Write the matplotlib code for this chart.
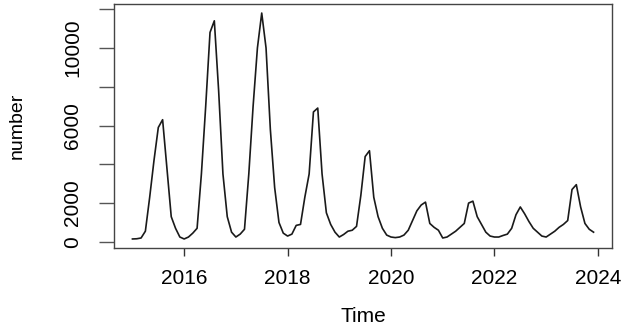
import numpy as np
import pandas as pd
import matplotlib
matplotlib.use("Agg")
import matplotlib.pyplot as plt

# monthly counts, Jan 2015 - Dec 2023
y2015 = [150, 160, 200, 550, 2300, 4200, 5900, 6300, 3800, 1300, 700, 250]
y2016 = [150, 250, 450, 700, 3500, 7000, 10800, 11400, 7800, 3500, 1300, 500]
y2017 = [250, 400, 650, 3500, 7000, 10000, 11800, 10000, 5800, 2800, 1000, 450]
y2018 = [300, 400, 850, 900, 2300, 3500, 6700, 6900, 3500, 1500, 900, 500]
y2019 = [250, 380, 550, 600, 800, 2400, 4400, 4700, 2300, 1300, 700, 350]
y2020 = [250, 220, 250, 350, 600, 1100, 1600, 1900, 2050, 950, 750, 600]
y2021 = [200, 250, 400, 550, 750, 950, 2000, 2100, 1300, 900, 500, 300]
y2022 = [250, 250, 330, 400, 700, 1400, 1800, 1450, 1050, 700, 500, 300]
y2023 = [250, 400, 550, 750, 900, 1100, 2700, 2950, 1800, 950, 650, 500]

yticks = [0, 2000, 4000, 6000, 8000, 10000, 12000]
ytick_labels = ["0", "2000", "", "6000", "", "10000", ""]
xticks = [2016, 2018, 2020, 2022, 2024]

counts = y2015 + y2016 + y2017 + y2018 + y2019 + y2020 + y2021 + y2022 + y2023
time = 2015 + np.arange(len(counts)) / 12
series = pd.Series(counts, index=time)

plt.rcParams["font.family"] = ["Liberation Sans", "DejaVu Sans"]

fig = plt.figure(figsize=(6.3, 3.25), dpi=100)
ax = fig.add_axes([114 / 630, 77 / 325, 498 / 630, 244 / 325])

ax.plot(series.index, series.values, color="#1a1a1a", lw=1.2)

# R style 4% padding around the data range
x0, x1 = series.index.min(), series.index.max()
ax.set_xlim(x0 - 0.04 * (x1 - x0), x1 + 0.04 * (x1 - x0))
lo, hi = series.min(), series.max()
ax.set_ylim(lo - 0.04 * (hi - lo), hi + 0.04 * (hi - lo))

ax.set_xticks(xticks, [str(t) for t in xticks], fontsize=15)
ax.set_yticks(yticks, ytick_labels, fontsize=15, rotation=90, va="center")
ax.tick_params(axis="x", length=6, width=1, pad=9, color="#333333")
ax.tick_params(axis="y", length=11, width=1, pad=12, color="#555555")
for s in ax.spines.values():
    s.set_color("#444444")
    s.set_linewidth(1)

ax.set_xlabel("Time", fontsize=15, labelpad=14)
ax.set_ylabel("number", fontsize=14, labelpad=27)

fig.savefig("out.png", dpi=100)
